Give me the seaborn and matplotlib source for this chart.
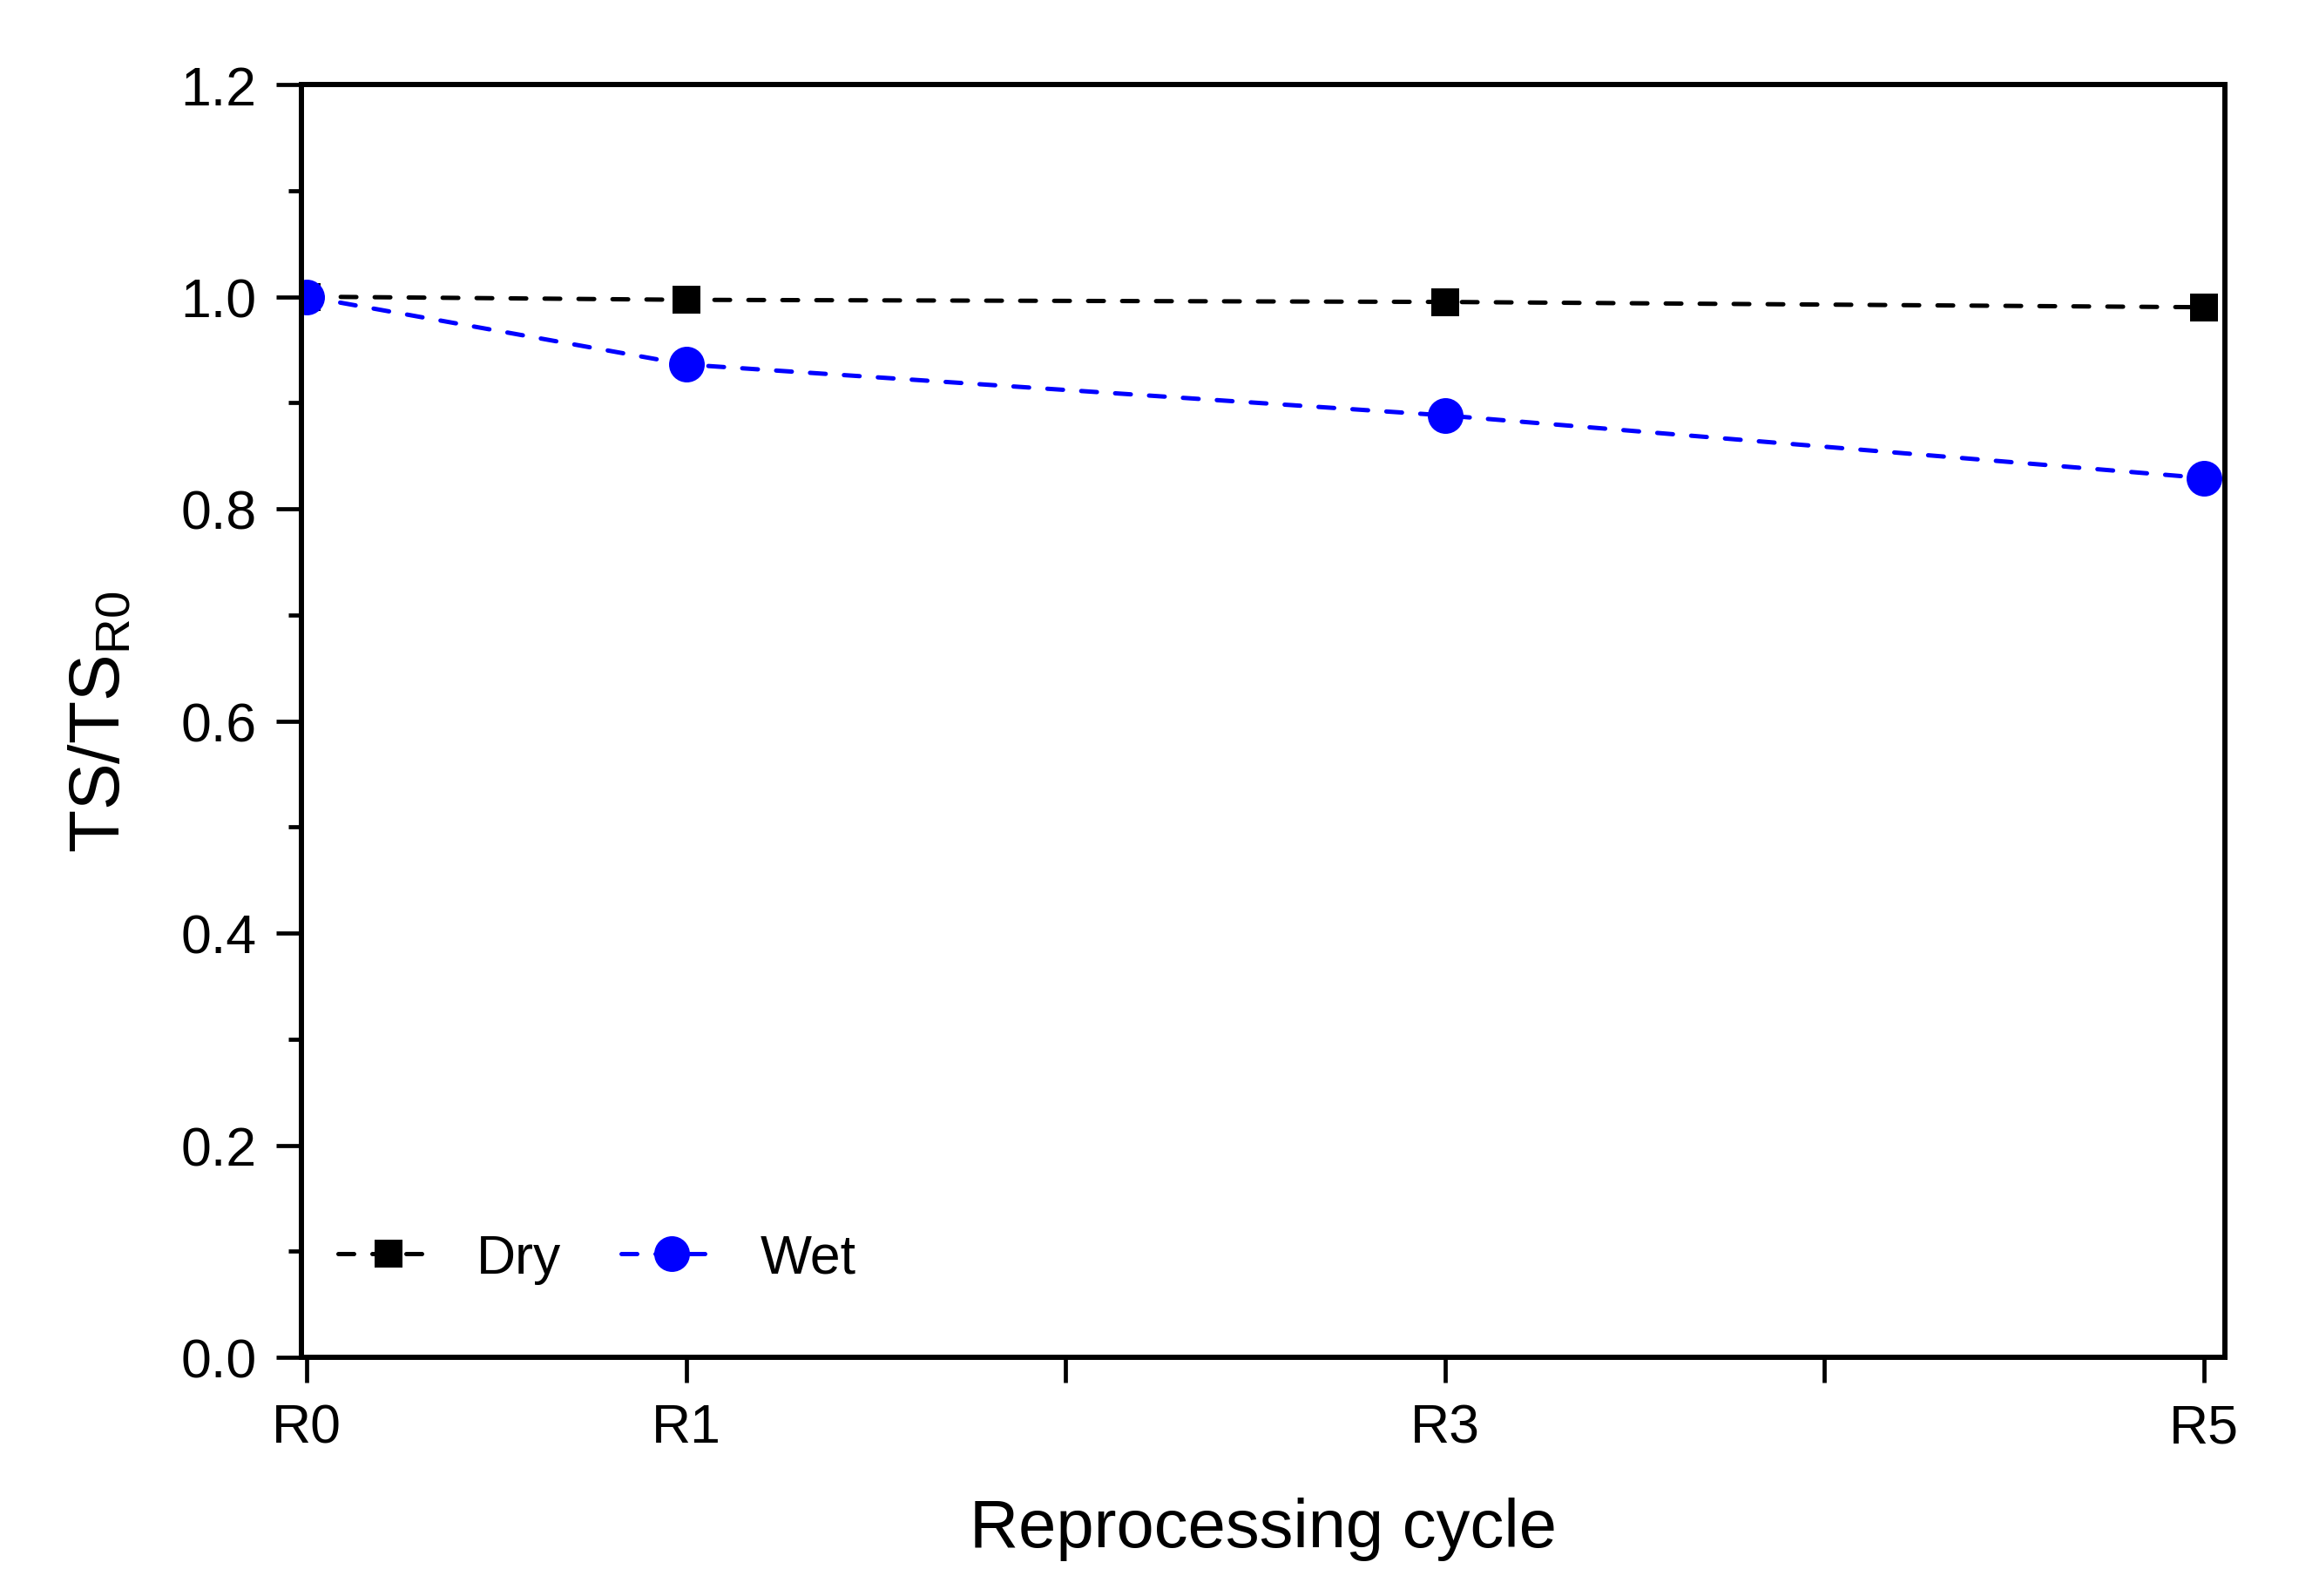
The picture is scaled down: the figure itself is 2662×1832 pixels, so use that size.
import numpy as np
import pandas as pd
import matplotlib
matplotlib.use("Agg")
import matplotlib.pyplot as plt
import seaborn as sns
from matplotlib.ticker import MultipleLocator, FormatStrFormatter

# ---- data ----
cycles = [0, 1, 3, 5]
cycle_labels = ["R0", "R1", "R3", "R5"]
dry = [1.000, 0.997, 0.995, 0.990]
wet = [1.000, 0.936, 0.888, 0.829]

sns.set_theme(style="ticks")
plt.rcParams["font.family"] = ["Liberation Sans", "DejaVu Sans"]
plt.rcParams["mathtext.default"] = "regular"
plt.rcParams["text.color"] = "black"
plt.rcParams["axes.labelcolor"] = "black"
plt.rcParams["xtick.color"] = "black"
plt.rcParams["ytick.color"] = "black"

W, H, DPI = 2662, 1833, 100
fig = plt.figure(figsize=(W / DPI, H / DPI), dpi=DPI, facecolor="white")
ax = fig.add_axes([346 / W, 1 - 1559 / H, (2554 - 346) / W, (1559 - 98) / H])
ax.set_facecolor("white")

df_dry = pd.DataFrame({"cycle": cycles, "value": dry})
df_wet = pd.DataFrame({"cycle": cycles, "value": wet})

lw = 3.6
dash = (0, (3.6, 4.2))
sns.lineplot(data=df_dry, x="cycle", y="value", ax=ax, color="black",
             linestyle=dash, linewidth=lw, dash_capstyle="round",
             marker="s", markersize=23, markeredgecolor="black",
             markerfacecolor="black", markeredgewidth=0, label="Dry")
sns.lineplot(data=df_wet, x="cycle", y="value", ax=ax, color="#0000ff",
             linestyle=dash, linewidth=lw, dash_capstyle="round",
             marker="o", markersize=29.5, markeredgecolor="#0000ff",
             markerfacecolor="#0000ff", markeredgewidth=0, label="Wet")

ax.set_xlim(-0.014, 5.055)
ax.set_ylim(0, 1.2)
ax.set_xticks([0, 1, 2, 3, 4, 5])
ax.set_xticklabels(["R0", "R1", "", "R3", "", "R5"])
ax.yaxis.set_major_locator(MultipleLocator(0.2))
ax.yaxis.set_minor_locator(MultipleLocator(0.1))
ax.yaxis.set_major_formatter(FormatStrFormatter("%.1f"))

for s in ax.spines.values():
    s.set_linewidth(4.3)
    s.set_color("black")
    s.set_visible(True)

ax.tick_params(axis="both", which="major", direction="out", length=21,
               width=3.4, color="black", labelsize=45, pad=16,
               labelcolor="black")
ax.tick_params(axis="y", which="minor", direction="out", length=11,
               width=3.4, color="black")
ax.tick_params(top=False, right=False)

ax.set_xlabel("Reprocessing cycle", fontsize=56, labelpad=36, color="black")
ax.set_ylabel("TS/TS$_{R0}$", fontsize=58, labelpad=38, color="black")

leg = ax.legend(loc="center left", bbox_to_anchor=(0.019, 0.078),
                frameon=False, ncol=2, fontsize=45, handlelength=1.85,
                handletextpad=0.7, columnspacing=1.1, borderaxespad=0,
                borderpad=0, labelcolor="black")

fig.savefig("out.png", dpi=DPI, facecolor="white")
